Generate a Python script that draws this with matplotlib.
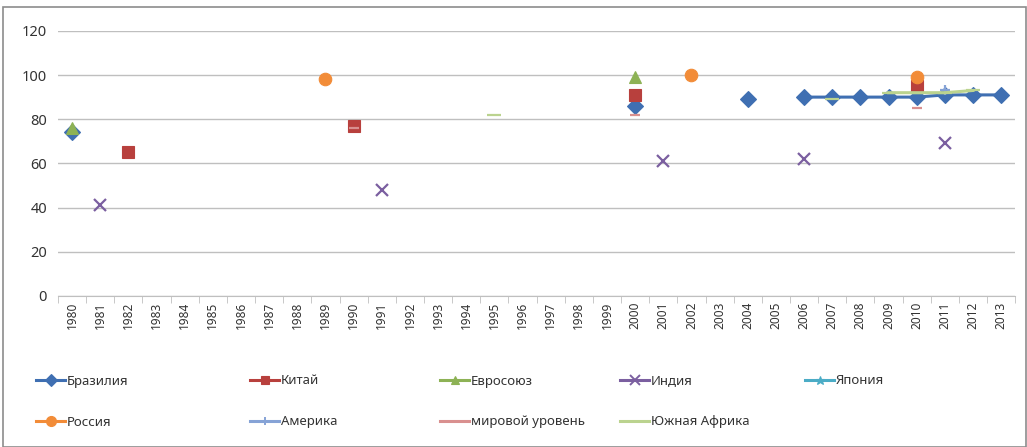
import numpy as np
import matplotlib.pyplot as plt
from matplotlib.patches import Rectangle
from matplotlib.lines import Line2D

plt.rcParams['font.family'] = ['Noto Sans', 'DejaVu Sans']

years = list(range(1980, 2014))

# values, year -> value
brazil = {1980: 74, 2000: 86, 2004: 89, 2006: 90, 2007: 90, 2008: 90, 2009: 90,
          2010: 90, 2011: 91, 2012: 91, 2013: 91}
china = {1982: 65, 1990: 77, 2000: 91, 2010: 95}
eu = {1980: 76, 2000: 99}
india = {1981: 41, 1991: 48, 2001: 61, 2006: 62, 2011: 69}
japan = {}
russia = {1989: 98, 2002: 100, 2010: 99}
america = {2011: 93}
world = {1990: 76, 2000: 82, 2010: 85}
south_africa = {1995: 82, 2007: 89, 2009: 92, 2010: 92, 2011: 92, 2012: 93}

labels = ['Бразилия', 'Китай', 'Евросоюз', 'Индия', 'Япония',
          'Россия', 'Америка', 'мировой уровень', 'Южная Африка']
series = [brazil, china, eu, india, japan, russia, america, world, south_africa]
colors = ['#3F6FB2', '#B8403D', '#8DB255', '#7B5FA0', '#4BACC6',
          '#F28C38', '#86A3D6', '#D9908F', '#BBD38F']
markers = ['D', 's', '^', 'x', '*', 'o', '+', '_', '_']
msizes = [8, 8, 8, 9, 8, 9, 7, 7, 10]


def to_array(d):
    return np.array([d.get(y, np.nan) for y in years], dtype=float)


fig = plt.figure(figsize=(10.27, 4.47), dpi=100)
ax = fig.add_axes([0.0565, 0.338, 0.932, 0.593])

x = np.arange(len(years))
for d, lab, c, m, ms in zip(series, labels, colors, markers, msizes):
    ax.plot(x, to_array(d), color=c, marker=m, markersize=ms, lw=2.2,
            markeredgewidth=1.6 if m in 'x+_' else 0.8, label=lab, zorder=3)

ax.set_xlim(-0.5, len(years) - 0.5)
ax.set_ylim(0, 120)
ax.set_yticks(range(0, 121, 20))
ax.yaxis.grid(True, color='#BFBFBF', lw=1)
ax.set_axisbelow(True)
ax.set_xticks(x)
ax.set_xticklabels([str(y) for y in years], rotation=90, fontsize=8.5, color='#333333')
ax.set_xticks(np.arange(-0.5, len(years)), minor=True)
ax.tick_params(axis='x', which='major', length=0, pad=4)
ax.tick_params(axis='x', which='minor', length=5, color='#BFBFBF')
ax.tick_params(axis='y', length=0, labelsize=10.5, labelcolor='#333333', pad=8)
for s in ['top', 'right', 'left']:
    ax.spines[s].set_visible(False)
ax.spines['bottom'].set_color('#BFBFBF')

# legend laid out like the original: two rows, fixed column starts (pixels)
col_x = [36, 250, 440, 620, 805]
row_y = [381, 422]
W, H = 1027, 447
for i, (lab, c, m, ms) in enumerate(zip(labels, colors, markers, msizes)):
    row, col = divmod(i, 5)
    px = col_x[col]
    if i == 8:
        px = 620
    h = Line2D([0], [0], color=c, marker=m, markersize=ms * 0.8, lw=2.2,
               markeredgewidth=1.4 if m in 'x+_' else 0.8)
    leg = fig.legend([h], [lab], loc='center left',
                     bbox_to_anchor=(px / W, 1 - row_y[row] / H),
                     frameon=False, fontsize=9.5, handlelength=2.2,
                     handletextpad=0.15, borderpad=0, borderaxespad=0)
    for t in leg.get_texts():
        t.set_color('#333333')

fig.patches.append(Rectangle((0.003, 0.0), 0.996, 0.984, transform=fig.transFigure,
                             fill=False, edgecolor='#8C8C8C', lw=1.2))

fig.savefig('out.png', dpi=100)
